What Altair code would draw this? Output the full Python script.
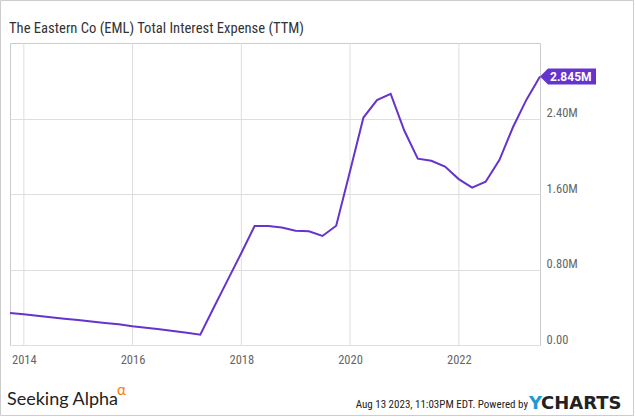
import altair as alt
import pandas as pd

TITLE = "The Eastern Co (EML) Total Interest Expense (TTM)"
dates = [
    "2013-09-30", "2013-12-31", "2014-03-31", "2014-06-30", "2014-09-30", "2014-12-31",
    "2015-03-31", "2015-06-30", "2015-09-30", "2015-12-31", "2016-03-31", "2016-06-30",
    "2016-09-30", "2016-12-31", "2017-03-31", "2017-06-30", "2017-09-30", "2017-12-31",
    "2018-03-31", "2018-06-30", "2018-09-30", "2018-12-31", "2019-03-31", "2019-06-30",
    "2019-09-30", "2019-12-31", "2020-03-31", "2020-06-30", "2020-09-30", "2020-12-31",
    "2021-03-31", "2021-06-30", "2021-09-30", "2021-12-31", "2022-03-31", "2022-06-30",
    "2022-09-30", "2022-12-31", "2023-03-31", "2023-06-30",
]
values_m = [
    0.339, 0.325, 0.309, 0.293, 0.279, 0.264, 0.249, 0.234, 0.219, 0.199,
    0.183, 0.167, 0.148, 0.131, 0.109, 0.397, 0.685, 0.972, 1.260, 1.260,
    1.245, 1.210, 1.205, 1.155, 1.264, 1.835, 2.410, 2.595, 2.660, 2.270,
    1.974, 1.952, 1.890, 1.758, 1.667, 1.730, 1.960, 2.310, 2.600, 2.845,
]
y_ticks = [0, 800000, 1600000, 2400000]
x_tick_dates = ["2014-01-01", "2016-01-01", "2018-01-01", "2020-01-01", "2022-01-01"]
badge_label = "2.845M"
footer_left = "Seeking Alpha"
footer_alpha = "α"
footer_right = "Aug 13 2023, 11:03PM EDT.  Powered by"
logo_y = "Y"
logo_rest = "CHARTS"

df = pd.DataFrame({"date": dates, "value": [v * 1e6 for v in values_m]})
last = df.tail(1).assign(label=badge_label)
ticks_df = pd.DataFrame({"date": x_tick_dates})

PURPLE = "#6633cc"
GRID = "#dedede"
NARROW = "Liberation Sans Narrow, Roboto Condensed, Arial Narrow, Roboto"

x_scale = alt.Scale(domain=[dates[0], dates[-1]], nice=False)

x_enc = alt.X(
    "date:T",
    scale=x_scale,
    axis=alt.Axis(
        values=[alt.DateTime(year=int(d[:4]), month=1, date=1) for d in x_tick_dates],
        format="%Y", title=None, ticks=False, domain=False, grid=False,
        labelPadding=8, labelFontSize=12.5, labelFont=NARROW, labelColor="#666",
    ),
)
y_enc = alt.Y(
    "value:Q",
    scale=alt.Scale(domain=[0, 3200000], nice=False),
    axis=alt.Axis(
        orient="right", values=y_ticks, title=None, ticks=False, domain=False, grid=True,
        labelExpr="datum.value == 0 ? '0.00' : format(datum.value / 1e6, '.2f') + 'M'",
        labelPadding=6, labelFontSize=12.5, labelFont=NARROW, labelColor="#666",
        labelBaseline="alphabetic", labelOffset=-2, gridColor=GRID,
    ),
)

one = pd.DataFrame({"k": [0]})

border = alt.Chart(one).mark_rect(
    fill="white", fillOpacity=0, stroke="#cccccc", strokeWidth=1
).encode(
    x=alt.value(-9.5), x2=alt.value(623.5), y=alt.value(-42.5), y2=alt.value(372.5)
)

vgrid = alt.Chart(ticks_df).mark_rule(color=GRID, strokeWidth=1).encode(
    x=alt.X("date:T", scale=x_scale),
    y=alt.value(0), y2=alt.value(302),
)

line = alt.Chart(df).mark_line(color=PURPLE, strokeWidth=2).encode(x=x_enc, y=y_enc)

badge = alt.Chart(last).mark_point(
    shape="M0,0 L1,-1 L7,-1 L7,1 L1,1 Z", size=256, filled=True,
    fill=PURPLE, opacity=1, strokeWidth=0,
).encode(x="date:T", y="value:Q")

badge_text = alt.Chart(last).mark_text(
    align="left", baseline="middle", dx=10, dy=0.5, color="white",
    font="Roboto", fontSize=12, fontWeight="bold",
).encode(x="date:T", y="value:Q", text="label:N")

def txt(s, x, y, **kw):
    return alt.Chart(pd.DataFrame({"t": [s]})).mark_text(**kw).encode(
        x=alt.value(x), y=alt.value(y), text="t:N"
    )

title = txt(TITLE, -1, -10.5, align="left", baseline="alphabetic", font=NARROW,
            fontSize=14.6, color="#333")
sa = txt(footer_left, -3, 362, align="left", baseline="alphabetic", font="Lato",
         fontSize=18, color="#222")
sa_alpha = txt(footer_alpha, 107, 352, align="left", baseline="alphabetic", font="Lato",
               fontSize=15, color="#ff7a00")
fr = txt(footer_right, 518, 364.5, align="right", baseline="alphabetic", font=NARROW,
         fontSize=11, color="#222")
ly = txt(logo_y, 519, 366, align="left", baseline="alphabetic", font="DejaVu Sans",
         fontSize=18, fontWeight="bold", color="#1b9ad6")
lr = txt(logo_rest, 531, 366, align="left", baseline="alphabetic", font="DejaVu Sans",
         fontSize=18, fontWeight="bold", color="#222")

chart = alt.layer(
    border, vgrid, line, badge, badge_text, title, sa, sa_alpha, fr, ly, lr
).properties(
    width=530, height=302,
    padding={"left": 10, "top": 43, "right": 95, "bottom": 72},
    autosize=alt.AutoSizeParams(type="none"),
    background="white",
).configure_view(stroke="#cccccc", strokeWidth=1)

chart.save("out.html", embed_options={"renderer": "svg", "actions": False})
